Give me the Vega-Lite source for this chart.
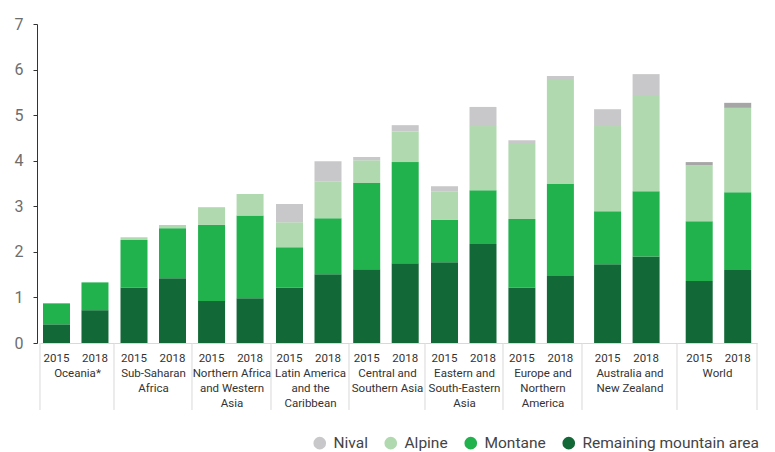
{
  "$schema": "https://vega.github.io/schema/vega-lite/v6.json",
  "padding": {"left": 14, "top": 16, "right": 5, "bottom": 0},
  "background": "white",
  "data": {"values": [
    {"region": "Oceania*", "year": "2015", "type": "Remaining mountain area", "value": 0.41},
    {"region": "Oceania*", "year": "2015", "type": "Montane", "value": 0.46},
    {"region": "Oceania*", "year": "2015", "type": "Alpine", "value": 0},
    {"region": "Oceania*", "year": "2015", "type": "Nival", "value": 0},
    {"region": "Oceania*", "year": "2018", "type": "Remaining mountain area", "value": 0.72},
    {"region": "Oceania*", "year": "2018", "type": "Montane", "value": 0.61},
    {"region": "Oceania*", "year": "2018", "type": "Alpine", "value": 0},
    {"region": "Oceania*", "year": "2018", "type": "Nival", "value": 0},
    {"region": "Sub-Saharan Africa", "year": "2015", "type": "Remaining mountain area", "value": 1.22},
    {"region": "Sub-Saharan Africa", "year": "2015", "type": "Montane", "value": 1.04},
    {"region": "Sub-Saharan Africa", "year": "2015", "type": "Alpine", "value": 0.06},
    {"region": "Sub-Saharan Africa", "year": "2015", "type": "Nival", "value": 0},
    {"region": "Sub-Saharan Africa", "year": "2018", "type": "Remaining mountain area", "value": 1.42},
    {"region": "Sub-Saharan Africa", "year": "2018", "type": "Montane", "value": 1.10},
    {"region": "Sub-Saharan Africa", "year": "2018", "type": "Alpine", "value": 0.07},
    {"region": "Sub-Saharan Africa", "year": "2018", "type": "Nival", "value": 0},
    {"region": "Northern Africa and Western Asia", "year": "2015", "type": "Remaining mountain area", "value": 0.92},
    {"region": "Northern Africa and Western Asia", "year": "2015", "type": "Montane", "value": 1.67},
    {"region": "Northern Africa and Western Asia", "year": "2015", "type": "Alpine", "value": 0.39},
    {"region": "Northern Africa and Western Asia", "year": "2015", "type": "Nival", "value": 0},
    {"region": "Northern Africa and Western Asia", "year": "2018", "type": "Remaining mountain area", "value": 0.98},
    {"region": "Northern Africa and Western Asia", "year": "2018", "type": "Montane", "value": 1.82},
    {"region": "Northern Africa and Western Asia", "year": "2018", "type": "Alpine", "value": 0.47},
    {"region": "Northern Africa and Western Asia", "year": "2018", "type": "Nival", "value": 0},
    {"region": "Latin America and the Caribbean", "year": "2015", "type": "Remaining mountain area", "value": 1.22},
    {"region": "Latin America and the Caribbean", "year": "2015", "type": "Montane", "value": 0.88},
    {"region": "Latin America and the Caribbean", "year": "2015", "type": "Alpine", "value": 0.55},
    {"region": "Latin America and the Caribbean", "year": "2015", "type": "Nival", "value": 0.40},
    {"region": "Latin America and the Caribbean", "year": "2018", "type": "Remaining mountain area", "value": 1.51},
    {"region": "Latin America and the Caribbean", "year": "2018", "type": "Montane", "value": 1.23},
    {"region": "Latin America and the Caribbean", "year": "2018", "type": "Alpine", "value": 0.80},
    {"region": "Latin America and the Caribbean", "year": "2018", "type": "Nival", "value": 0.45},
    {"region": "Central and Southern Asia", "year": "2015", "type": "Remaining mountain area", "value": 1.62},
    {"region": "Central and Southern Asia", "year": "2015", "type": "Montane", "value": 1.89},
    {"region": "Central and Southern Asia", "year": "2015", "type": "Alpine", "value": 0.50},
    {"region": "Central and Southern Asia", "year": "2015", "type": "Nival", "value": 0.07},
    {"region": "Central and Southern Asia", "year": "2018", "type": "Remaining mountain area", "value": 1.75},
    {"region": "Central and Southern Asia", "year": "2018", "type": "Montane", "value": 2.22},
    {"region": "Central and Southern Asia", "year": "2018", "type": "Alpine", "value": 0.67},
    {"region": "Central and Southern Asia", "year": "2018", "type": "Nival", "value": 0.14},
    {"region": "Eastern and South-Eastern Asia", "year": "2015", "type": "Remaining mountain area", "value": 1.77},
    {"region": "Eastern and South-Eastern Asia", "year": "2015", "type": "Montane", "value": 0.93},
    {"region": "Eastern and South-Eastern Asia", "year": "2015", "type": "Alpine", "value": 0.63},
    {"region": "Eastern and South-Eastern Asia", "year": "2015", "type": "Nival", "value": 0.11},
    {"region": "Eastern and South-Eastern Asia", "year": "2018", "type": "Remaining mountain area", "value": 2.17},
    {"region": "Eastern and South-Eastern Asia", "year": "2018", "type": "Montane", "value": 1.18},
    {"region": "Eastern and South-Eastern Asia", "year": "2018", "type": "Alpine", "value": 1.41},
    {"region": "Eastern and South-Eastern Asia", "year": "2018", "type": "Nival", "value": 0.42},
    {"region": "Europe and Northern America", "year": "2015", "type": "Remaining mountain area", "value": 1.22},
    {"region": "Europe and Northern America", "year": "2015", "type": "Montane", "value": 1.50},
    {"region": "Europe and Northern America", "year": "2015", "type": "Alpine", "value": 1.67},
    {"region": "Europe and Northern America", "year": "2015", "type": "Nival", "value": 0.06},
    {"region": "Europe and Northern America", "year": "2018", "type": "Remaining mountain area", "value": 1.47},
    {"region": "Europe and Northern America", "year": "2018", "type": "Montane", "value": 2.02},
    {"region": "Europe and Northern America", "year": "2018", "type": "Alpine", "value": 2.28},
    {"region": "Europe and Northern America", "year": "2018", "type": "Nival", "value": 0.09},
    {"region": "Australia and New Zealand", "year": "2015", "type": "Remaining mountain area", "value": 1.73},
    {"region": "Australia and New Zealand", "year": "2015", "type": "Montane", "value": 1.16},
    {"region": "Australia and New Zealand", "year": "2015", "type": "Alpine", "value": 1.87},
    {"region": "Australia and New Zealand", "year": "2015", "type": "Nival", "value": 0.37},
    {"region": "Australia and New Zealand", "year": "2018", "type": "Remaining mountain area", "value": 1.90},
    {"region": "Australia and New Zealand", "year": "2018", "type": "Montane", "value": 1.43},
    {"region": "Australia and New Zealand", "year": "2018", "type": "Alpine", "value": 2.11},
    {"region": "Australia and New Zealand", "year": "2018", "type": "Nival", "value": 0.46},
    {"region": "World", "year": "2015", "type": "Remaining mountain area", "value": 1.36},
    {"region": "World", "year": "2015", "type": "Montane", "value": 1.31},
    {"region": "World", "year": "2015", "type": "Alpine", "value": 1.23},
    {"region": "World", "year": "2015", "type": "Nival", "value": 0.07},
    {"region": "World", "year": "2018", "type": "Remaining mountain area", "value": 1.60},
    {"region": "World", "year": "2018", "type": "Montane", "value": 1.71},
    {"region": "World", "year": "2018", "type": "Alpine", "value": 1.85},
    {"region": "World", "year": "2018", "type": "Nival", "value": 0.11}
  ]},
  "spacing": 0,
  "bounds": "flush",
  "hconcat": [
    {
      "width": 74, "height": 319,
      "transform": [{"filter": {"field": "region", "equal": "Oceania*"}}, {"calculate": "indexof(['Nival','Alpine','Montane','Remaining mountain area'], datum.type)", "as": "stackOrder"}],
      "layer": [
        {"mark": {"type": "rule", "color": "#d9d9d9", "xOffset": -3},
         "transform": [{"filter": "datum.year === '2015' && datum.type === 'Nival'"}],
         "encoding": {"x": {"datum": "2015", "type": "nominal", "bandPosition": 0}, "y": {"datum": 0, "type": "quantitative"}, "y2": {"datum": -1.47}}},
        {"mark": "bar",
         "encoding": {
           "x": {"field": "year", "type": "nominal", "scale": {"paddingInner": 0.2987, "paddingOuter": 0.1104, "align": 0.35}, "axis": {"title": "Oceania*"}},
           "y": {"field": "value", "type": "quantitative", "stack": "zero", "scale": {"domain": [0, 7]},
                 "axis": {"title": null, "values": [0,1,2,3,4,5,6,7], "offset": 3, "tickSize": 4, "labelPadding": 10, "labelFontSize": 16, "labelColor": "#6d6d6d", "domainColor": "#333333", "tickColor": "#333333", "grid": false}},
           "order": {"field": "stackOrder", "type": "quantitative", "sort": "descending"},
           "color": {"field": "type", "type": "nominal", "title": null, "sort": ["Nival", "Alpine", "Montane", "Remaining mountain area"],
                     "scale": {"domain": ["Nival", "Alpine", "Montane", "Remaining mountain area"], "range": ["#c8c8ca", "#b1d9b0", "#21b14d", "#126836"]},
                     "legend": {"orient": "none", "legendX": 272, "legendY": 411, "direction": "horizontal", "symbolType": "circle", "symbolSize": 160, "symbolStrokeWidth": 0, "labelFontSize": 15.5, "labelColor": "#444444", "labelLimit": 300, "columnPadding": 15, "labelOffset": 6, "padding": 0}}
         }}
      ]
    },
    {
      "width": 78, "height": 319,
      "transform": [{"filter": {"field": "region", "equal": "Sub-Saharan Africa"}}, {"calculate": "indexof(['Nival','Alpine','Montane','Remaining mountain area'], datum.type)", "as": "stackOrder"}],
      "layer": [
        {"mark": {"type": "rule", "color": "#d9d9d9", "xOffset": -6.5},
         "transform": [{"filter": "datum.year === '2015' && datum.type === 'Nival'"}],
         "encoding": {"x": {"datum": "2015", "type": "nominal", "bandPosition": 0}, "y": {"datum": 0, "type": "quantitative", "axis": null}, "y2": {"datum": -1.47}}},
        {"mark": "bar",
         "encoding": {
           "x": {"field": "year", "type": "nominal", "scale": {"paddingInner": 0.2987, "paddingOuter": 0.1623, "align": 0.52}, "axis": {"title": ["Sub-Saharan", "Africa"]}},
           "y": {"field": "value", "type": "quantitative", "stack": "zero", "scale": {"domain": [0, 7]}, "axis": null},
           "order": {"field": "stackOrder", "type": "quantitative", "sort": "descending"},
           "color": {"field": "type", "type": "nominal", "title": null, "sort": ["Nival", "Alpine", "Montane", "Remaining mountain area"],
                     "scale": {"domain": ["Nival", "Alpine", "Montane", "Remaining mountain area"], "range": ["#c8c8ca", "#b1d9b0", "#21b14d", "#126836"]}}
         }}
      ]
    },
    {
      "width": 79, "height": 319,
      "transform": [{"filter": {"field": "region", "equal": "Northern Africa and Western Asia"}}, {"calculate": "indexof(['Nival','Alpine','Montane','Remaining mountain area'], datum.type)", "as": "stackOrder"}],
      "layer": [
        {"mark": {"type": "rule", "color": "#d9d9d9", "xOffset": -6.1},
         "transform": [{"filter": "datum.year === '2015' && datum.type === 'Nival'"}],
         "encoding": {"x": {"datum": "2015", "type": "nominal", "bandPosition": 0}, "y": {"datum": 0, "type": "quantitative", "axis": null}, "y2": {"datum": -1.47}}},
        {"mark": "bar",
         "encoding": {
           "x": {"field": "year", "type": "nominal", "scale": {"paddingInner": 0.2987, "paddingOuter": 0.1753, "align": 0.45}, "axis": {"title": ["Northern Africa", "and Western", "Asia"]}},
           "y": {"field": "value", "type": "quantitative", "stack": "zero", "scale": {"domain": [0, 7]}, "axis": null},
           "order": {"field": "stackOrder", "type": "quantitative", "sort": "descending"},
           "color": {"field": "type", "type": "nominal", "title": null, "sort": ["Nival", "Alpine", "Montane", "Remaining mountain area"],
                     "scale": {"domain": ["Nival", "Alpine", "Montane", "Remaining mountain area"], "range": ["#c8c8ca", "#b1d9b0", "#21b14d", "#126836"]}}
         }}
      ]
    },
    {
      "width": 78, "height": 319,
      "transform": [{"filter": {"field": "region", "equal": "Latin America and the Caribbean"}}, {"calculate": "indexof(['Nival','Alpine','Montane','Remaining mountain area'], datum.type)", "as": "stackOrder"}],
      "layer": [
        {"mark": {"type": "rule", "color": "#d9d9d9", "xOffset": -5},
         "transform": [{"filter": "datum.year === '2015' && datum.type === 'Nival'"}],
         "encoding": {"x": {"datum": "2015", "type": "nominal", "bandPosition": 0}, "y": {"datum": 0, "type": "quantitative", "axis": null}, "y2": {"datum": -1.47}}},
        {"mark": "bar",
         "encoding": {
           "x": {"field": "year", "type": "nominal", "scale": {"paddingInner": 0.2987, "paddingOuter": 0.1623, "align": 0.4}, "axis": {"title": ["Latin America", "and the", "Caribbean"]}},
           "y": {"field": "value", "type": "quantitative", "stack": "zero", "scale": {"domain": [0, 7]}, "axis": null},
           "order": {"field": "stackOrder", "type": "quantitative", "sort": "descending"},
           "color": {"field": "type", "type": "nominal", "title": null, "sort": ["Nival", "Alpine", "Montane", "Remaining mountain area"],
                     "scale": {"domain": ["Nival", "Alpine", "Montane", "Remaining mountain area"], "range": ["#c8c8ca", "#b1d9b0", "#21b14d", "#126836"]}}
         }}
      ]
    },
    {
      "width": 76, "height": 319,
      "transform": [{"filter": {"field": "region", "equal": "Central and Southern Asia"}}, {"calculate": "indexof(['Nival','Alpine','Montane','Remaining mountain area'], datum.type)", "as": "stackOrder"}],
      "layer": [
        {"mark": {"type": "rule", "color": "#d9d9d9", "xOffset": -4.2},
         "transform": [{"filter": "datum.year === '2015' && datum.type === 'Nival'"}],
         "encoding": {"x": {"datum": "2015", "type": "nominal", "bandPosition": 0}, "y": {"datum": 0, "type": "quantitative", "axis": null}, "y2": {"datum": -1.47}}},
        {"mark": "bar",
         "encoding": {
           "x": {"field": "year", "type": "nominal", "scale": {"paddingInner": 0.2987, "paddingOuter": 0.1363, "align": 0.4}, "axis": {"title": ["Central and", "Southern Asia"]}},
           "y": {"field": "value", "type": "quantitative", "stack": "zero", "scale": {"domain": [0, 7]}, "axis": null},
           "order": {"field": "stackOrder", "type": "quantitative", "sort": "descending"},
           "color": {"field": "type", "type": "nominal", "title": null, "sort": ["Nival", "Alpine", "Montane", "Remaining mountain area"],
                     "scale": {"domain": ["Nival", "Alpine", "Montane", "Remaining mountain area"], "range": ["#c8c8ca", "#b1d9b0", "#21b14d", "#126836"]}}
         }}
      ]
    },
    {
      "width": 78, "height": 319,
      "transform": [{"filter": {"field": "region", "equal": "Eastern and South-Eastern Asia"}}, {"calculate": "indexof(['Nival','Alpine','Montane','Remaining mountain area'], datum.type)", "as": "stackOrder"}],
      "layer": [
        {"mark": {"type": "rule", "color": "#d9d9d9", "xOffset": -6},
         "transform": [{"filter": "datum.year === '2015' && datum.type === 'Nival'"}],
         "encoding": {"x": {"datum": "2015", "type": "nominal", "bandPosition": 0}, "y": {"datum": 0, "type": "quantitative", "axis": null}, "y2": {"datum": -1.47}}},
        {"mark": "bar",
         "encoding": {
           "x": {"field": "year", "type": "nominal", "scale": {"paddingInner": 0.2987, "paddingOuter": 0.1623, "align": 0.48}, "axis": {"title": ["Eastern and", "South-Eastern", "Asia"]}},
           "y": {"field": "value", "type": "quantitative", "stack": "zero", "scale": {"domain": [0, 7]}, "axis": null},
           "order": {"field": "stackOrder", "type": "quantitative", "sort": "descending"},
           "color": {"field": "type", "type": "nominal", "title": null, "sort": ["Nival", "Alpine", "Montane", "Remaining mountain area"],
                     "scale": {"domain": ["Nival", "Alpine", "Montane", "Remaining mountain area"], "range": ["#c8c8ca", "#b1d9b0", "#21b14d", "#126836"]}}
         }}
      ]
    },
    {
      "width": 79, "height": 319,
      "transform": [{"filter": {"field": "region", "equal": "Europe and Northern America"}}, {"calculate": "indexof(['Nival','Alpine','Montane','Remaining mountain area'], datum.type)", "as": "stackOrder"}],
      "layer": [
        {"mark": {"type": "rule", "color": "#d9d9d9", "xOffset": -5.4},
         "transform": [{"filter": "datum.year === '2015' && datum.type === 'Nival'"}],
         "encoding": {"x": {"datum": "2015", "type": "nominal", "bandPosition": 0}, "y": {"datum": 0, "type": "quantitative", "axis": null}, "y2": {"datum": -1.47}}},
        {"mark": "bar",
         "encoding": {
           "x": {"field": "year", "type": "nominal", "scale": {"paddingInner": 0.2987, "paddingOuter": 0.1753, "align": 0.4}, "axis": {"title": ["Europe and", "Northern", "America"]}},
           "y": {"field": "value", "type": "quantitative", "stack": "zero", "scale": {"domain": [0, 7]}, "axis": null},
           "order": {"field": "stackOrder", "type": "quantitative", "sort": "descending"},
           "color": {"field": "type", "type": "nominal", "title": null, "sort": ["Nival", "Alpine", "Montane", "Remaining mountain area"],
                     "scale": {"domain": ["Nival", "Alpine", "Montane", "Remaining mountain area"], "range": ["#c8c8ca", "#b1d9b0", "#21b14d", "#126836"]}}
         }}
      ]
    },
    {
      "width": 95, "height": 319,
      "transform": [{"filter": {"field": "region", "equal": "Australia and New Zealand"}}, {"calculate": "indexof(['Nival','Alpine','Montane','Remaining mountain area'], datum.type)", "as": "stackOrder"}],
      "layer": [
        {"mark": {"type": "rule", "color": "#d9d9d9", "xOffset": -12.1},
         "transform": [{"filter": "datum.year === '2015' && datum.type === 'Nival'"}],
         "encoding": {"x": {"datum": "2015", "type": "nominal", "bandPosition": 0}, "y": {"datum": 0, "type": "quantitative", "axis": null}, "y2": {"datum": -1.47}}},
        {"mark": "bar",
         "encoding": {
           "x": {"field": "year", "type": "nominal", "scale": {"paddingInner": 0.2987, "paddingOuter": 0.3831, "align": 0.41}, "axis": {"title": ["Australia and", "New Zealand"]}},
           "y": {"field": "value", "type": "quantitative", "stack": "zero", "scale": {"domain": [0, 7]}, "axis": null},
           "order": {"field": "stackOrder", "type": "quantitative", "sort": "descending"},
           "color": {"field": "type", "type": "nominal", "title": null, "sort": ["Nival", "Alpine", "Montane", "Remaining mountain area"],
                     "scale": {"domain": ["Nival", "Alpine", "Montane", "Remaining mountain area"], "range": ["#c8c8ca", "#b1d9b0", "#21b14d", "#126836"]}}
         }}
      ]
    },
    {
      "width": 80, "height": 319,
      "transform": [{"filter": {"field": "region", "equal": "World"}}, {"calculate": "indexof(['Nival','Alpine','Montane','Remaining mountain area'], datum.type)", "as": "stackOrder"}],
      "layer": [
        {"mark": {"type": "rule", "color": "#d9d9d9", "xOffset": -8.7},
         "transform": [{"filter": "datum.year === '2015' && datum.type === 'Nival'"}],
         "encoding": {"x": {"datum": "2015", "type": "nominal", "bandPosition": 0}, "y": {"datum": 0, "type": "quantitative", "axis": null}, "y2": {"datum": -1.47}}},
        {"mark": {"type": "rule", "color": "#d9d9d9", "xOffset": 5.8},
         "transform": [{"filter": "datum.year === '2015' && datum.type === 'Nival'"}],
         "encoding": {"x": {"datum": "2018", "type": "nominal", "bandPosition": 1}, "y": {"datum": 0, "type": "quantitative", "axis": null}, "y2": {"datum": -1.47}}},
        {"mark": "bar",
         "encoding": {
           "x": {"field": "year", "type": "nominal", "scale": {"paddingInner": 0.2987, "paddingOuter": 0.1883, "align": 0.6}, "axis": {"title": "World"}},
           "y": {"field": "value", "type": "quantitative", "stack": "zero", "scale": {"domain": [0, 7]}, "axis": null},
           "order": {"field": "stackOrder", "type": "quantitative", "sort": "descending"},
           "color": {"condition": {"test": "datum.type === 'Nival'", "value": "#a6a6a6"},
                     "field": "type", "type": "nominal", "title": null, "sort": ["Nival", "Alpine", "Montane", "Remaining mountain area"],
                     "scale": {"domain": ["Nival", "Alpine", "Montane", "Remaining mountain area"], "range": ["#c8c8ca", "#b1d9b0", "#21b14d", "#126836"]}}
         }}
      ]
    }
  ],
  "config": {
    "font": "Roboto",
    "view": {"stroke": null},
    "axisX": {"labelAngle": 0, "ticks": false, "domainColor": "#d9d9d9", "labelFontSize": 11.5, "labelColor": "#333333", "labelPadding": 9, "titleFontSize": 11.5, "titleFontWeight": "normal", "titleColor": "#333333", "titlePadding": 4, "titleLineHeight": 15, "grid": false},
    "axisY": {"grid": false}
  }
}
